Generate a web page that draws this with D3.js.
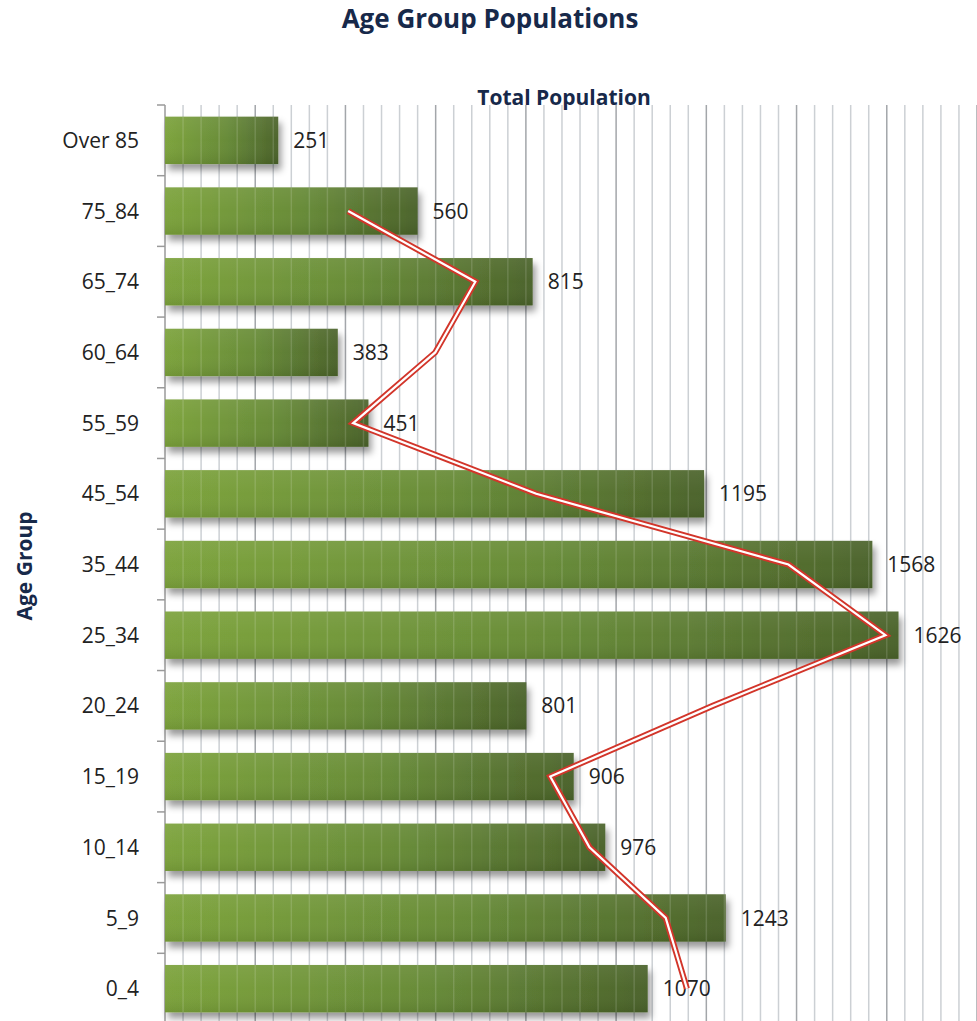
<!DOCTYPE html>
<html>
<head>
<meta charset="utf-8">
<script src="https://cdn.jsdelivr.net/npm/d3@7"></script>
<style>
  body { margin: 0; background: #fff; }
  svg { display: block; font-family: "Open Sans", Lato, sans-serif; }
</style>
</head>
<body>
<svg id="chart"></svg>
<script>
// categories top to bottom, as shown
const categories = ["Over 85", "75_84", "65_74", "60_64", "55_59", "45_54", "35_44",
  "25_34", "20_24", "15_19", "10_14", "5_9", "0_4"];
const population = [251, 560, 815, 383, 451, 1195, 1568, 1626, 801, 906, 976, 1243, 1070];
// trend line (2-period moving average), null where there is no point
const trend = [null, 406, 688, 599, 417, 823, 1382, 1597, 1214, 854, 941, 1110, 1157];
const xTicks = d3.range(0, 1801, 40);

const svgWidth = 977, svgHeight = 1021;
const margin = { top: 105, right: 0, bottom: -3, left: 165 };
const width = svgWidth - margin.left - margin.right;
const height = svgHeight - margin.top - margin.bottom;

const root = d3.select("#chart")
  .attr("width", svgWidth)
  .attr("height", svgHeight);

const defs = root.append("defs");
const grad = defs.append("linearGradient").attr("id", "barGrad")
  .attr("x1", "0%").attr("x2", "100%").attr("y1", "0%").attr("y2", "0%");
grad.append("stop").attr("offset", "0%").attr("stop-color", "#7ba23a");
grad.append("stop").attr("offset", "55%").attr("stop-color", "#658935");
grad.append("stop").attr("offset", "100%").attr("stop-color", "#4a6229");

const shine = defs.append("linearGradient").attr("id", "barShine")
  .attr("x1", "0%").attr("x2", "0%").attr("y1", "0%").attr("y2", "100%");
shine.append("stop").attr("offset", "0%").attr("stop-color", "#fff").attr("stop-opacity", 0.08);
shine.append("stop").attr("offset", "50%").attr("stop-color", "#fff").attr("stop-opacity", 0.02);
shine.append("stop").attr("offset", "100%").attr("stop-color", "#000").attr("stop-opacity", 0.08);

const shadow = defs.append("filter").attr("id", "shadow")
  .attr("x", "-5%").attr("y", "-20%").attr("width", "115%").attr("height", "170%");
shadow.append("feDropShadow").attr("dx", 3).attr("dy", 6)
  .attr("stdDeviation", 3.5).attr("flood-color", "#000").attr("flood-opacity", 0.4);

const svg = root.append("g")
  .attr("transform", `translate(${margin.left},${margin.top})`);

const xScale = d3.scaleLinear().domain([0, 1800]).range([0, width]);
const yScale = d3.scaleBand().domain(categories).range([0, height])
  .paddingInner(0.33).paddingOuter(0.165);

// gridlines
svg.append("g")
  .selectAll("line")
  .data(xTicks.slice(1))
  .enter()
  .append("line")
  .attr("x1", d => xScale(d)).attr("x2", d => xScale(d))
  .attr("y1", 0).attr("y2", height)
  .attr("stroke", d => d % 200 === 0 ? "#a3a6aa" : "#ccd0d4")
  .attr("stroke-width", 1.5);

// left axis line and ticks
svg.append("line")
  .attr("x1", 0).attr("x2", 0).attr("y1", 0).attr("y2", height)
  .attr("stroke", "#9a9a9a").attr("stroke-width", 1.5);

svg.append("g")
  .selectAll("line")
  .data(d3.range(categories.length + 1))
  .enter()
  .append("line")
  .attr("x1", -8).attr("x2", 0)
  .attr("y1", i => i * yScale.step()).attr("y2", i => i * yScale.step())
  .attr("stroke", "#9a9a9a").attr("stroke-width", 1.5);

// bars
const bars = svg.append("g");
bars.selectAll(".bar")
  .data(categories)
  .enter()
  .append("rect")
  .attr("class", "bar")
  .attr("x", 0)
  .attr("y", d => yScale(d))
  .attr("width", (d, i) => xScale(population[i]))
  .attr("height", yScale.bandwidth())
  .attr("fill", "url(#barGrad)")
  .attr("filter", "url(#shadow)");

bars.selectAll(".shine")
  .data(categories)
  .enter()
  .append("rect")
  .attr("class", "shine")
  .attr("x", 0)
  .attr("y", d => yScale(d))
  .attr("width", (d, i) => xScale(population[i]))
  .attr("height", yScale.bandwidth())
  .attr("fill", "url(#barShine)");

// gridlines showing through bars
bars.selectAll(".through")
  .data(categories)
  .enter()
  .append("g")
  .attr("class", "through")
  .each(function(d, i) {
    d3.select(this).selectAll("line")
      .data(xTicks.slice(1).filter(t => xScale(t) < xScale(population[i]) - 1))
      .enter()
      .append("line")
      .attr("x1", t => xScale(t)).attr("x2", t => xScale(t))
      .attr("y1", yScale(d)).attr("y2", yScale(d) + yScale.bandwidth())
      .attr("stroke", "#ffffff")
      .attr("stroke-opacity", 0.14)
      .attr("stroke-width", 1.5);
  });

// value labels
svg.selectAll(".value")
  .data(categories)
  .enter()
  .append("text")
  .attr("class", "value")
  .attr("x", (d, i) => xScale(population[i]) + 15)
  .attr("y", d => yScale(d) + yScale.bandwidth() / 2)
  .attr("dy", "0.36em")
  .attr("fill", "#222")
  .style("font-size", "21px")
  .text((d, i) => population[i]);

// category labels
svg.selectAll(".cat")
  .data(categories)
  .enter()
  .append("text")
  .attr("class", "cat")
  .attr("x", -26)
  .attr("y", d => yScale(d) + yScale.bandwidth() / 2)
  .attr("dy", "0.36em")
  .attr("text-anchor", "end")
  .attr("fill", "#222")
  .style("font-size", "21px")
  .text(d => d);

// trend line, drawn red with a white core
const trendPoints = categories
  .map((c, i) => ({ c, v: trend[i] }))
  .filter(p => p.v !== null);
const line = d3.line()
  .x(p => xScale(p.v))
  .y(p => yScale(p.c) + yScale.bandwidth() / 2);

svg.append("path")
  .datum(trendPoints)
  .attr("d", line)
  .attr("fill", "none")
  .attr("stroke", "#d2352a")
  .attr("stroke-width", 6)
  .attr("stroke-linejoin", "miter");

svg.append("path")
  .datum(trendPoints)
  .attr("d", line)
  .attr("fill", "none")
  .attr("stroke", "#ffffff")
  .attr("stroke-width", 2.2)
  .attr("stroke-linejoin", "miter");

// titles
root.append("text")
  .attr("x", 490)
  .attr("y", 28)
  .attr("text-anchor", "middle")
  .attr("fill", "#17294a")
  .style("font-size", "26px")
  .style("font-weight", "bold")
  .text("Age Group Populations");

root.append("text")
  .attr("x", 564)
  .attr("y", 105)
  .attr("text-anchor", "middle")
  .attr("fill", "#17294a")
  .style("font-size", "21px")
  .style("font-weight", "bold")
  .text("Total Population");

root.append("text")
  .attr("transform", "rotate(-90)")
  .attr("x", -566)
  .attr("y", 32)
  .attr("text-anchor", "middle")
  .attr("fill", "#17294a")
  .style("font-size", "21px")
  .style("font-weight", "bold")
  .text("Age Group");
</script>
</body>
</html>
